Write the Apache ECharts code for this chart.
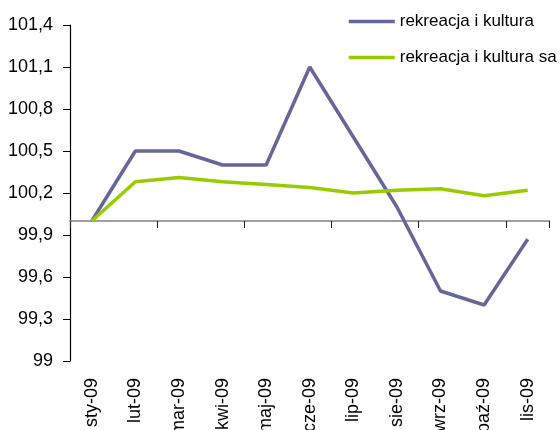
<!DOCTYPE html>
<html>
<head>
<meta charset="utf-8">
<script src="https://cdn.jsdelivr.net/npm/echarts@6/dist/echarts.min.js"></script>
<style>
  html, body { margin: 0; padding: 0; background: #fff; }
  #chart { width: 560px; height: 430px; }
</style>
</head>
<body>
<div id="chart"></div>
<script>
// Months of 2009
const months = ['sty-09', 'lut-09', 'mar-09', 'kwi-09', 'maj-09', 'cze-09',
                'lip-09', 'sie-09', 'wrz-09', 'paź-09', 'lis-09'];

// Index values
const kultura = [100.0, 100.5, 100.5, 100.4, 100.4, 101.1, 100.6, 100.1, 99.5, 99.4, 99.87];
const kulturaSa = [100.0, 100.28, 100.31, 100.28, 100.26, 100.24, 100.2, 100.22, 100.23, 100.18, 100.22];

const seriesNames = ['rekreacja i kultura', 'rekreacja i kultura sa'];

// Value axis
const yMin = 99, yMax = 101.4, yStep = 0.3, baseLevel = 100;

const FONT = 'Liberation Sans, Arial, sans-serif';
const gridTop = 25, gridBottom = 69;
const gridHeight = 430 - gridTop - gridBottom;
// The category axis line sits on the base level
const baseOffset = -gridHeight * (baseLevel - yMin) / (yMax - yMin);

const chart = echarts.init(document.getElementById('chart'), null, { renderer: 'canvas' });

chart.setOption({
  animation: false,
  backgroundColor: '#fff',
  grid: {
    left: 70, right: 10.5, top: gridTop, bottom: gridBottom,
    containLabel: false,
    outerBoundsMode: 'none'
  },
  legend: {
    orient: 'vertical',
    left: 342,
    top: 8,
    itemWidth: 46,
    itemHeight: 14,
    itemGap: 19,
    itemStyle: { opacity: 0 },
    lineStyle: { width: 3.5 },
    textStyle: { fontFamily: FONT, fontSize: 17, color: '#000' },
    data: seriesNames
  },
  xAxis: [
    {
      type: 'category',
      data: months,
      position: 'bottom',
      offset: baseOffset,
      axisLine: { show: true, lineStyle: { color: '#808080', width: 1.5 } },
      axisTick: { show: true, length: 7, lineStyle: { color: '#222', width: 1 } },
      axisLabel: { show: false },
      splitLine: { show: false }
    },
    {
      type: 'category',
      data: months,
      position: 'bottom',
      axisLine: { show: false },
      axisTick: { show: false },
      axisLabel: {
        rotate: 90,
        margin: 17,
        interval: 0,
        fontFamily: FONT,
        fontSize: 18,
        color: '#000'
      },
      splitLine: { show: false }
    }
  ],
  yAxis: {
    type: 'value',
    min: yMin,
    max: yMax,
    interval: yStep,
    axisLine: { show: true, lineStyle: { color: '#000', width: 1.2 } },
    axisTick: { show: true, length: 7, lineStyle: { color: '#000' } },
    axisLabel: {
      margin: 17,
      fontFamily: FONT,
      fontSize: 18,
      color: '#000',
      formatter: v => String(+v.toFixed(1)).replace('.', ',')
    },
    splitLine: { show: false }
  },
  series: [
    {
      name: seriesNames[0],
      type: 'line',
      data: kultura,
      symbol: 'none',
      lineStyle: { color: '#666699', width: 3.5 },
      itemStyle: { color: '#666699' }
    },
    {
      name: seriesNames[1],
      type: 'line',
      data: kulturaSa,
      symbol: 'none',
      lineStyle: { color: '#99cc00', width: 3.5 },
      itemStyle: { color: '#99cc00' }
    }
  ]
});
</script>
</body>
</html>
